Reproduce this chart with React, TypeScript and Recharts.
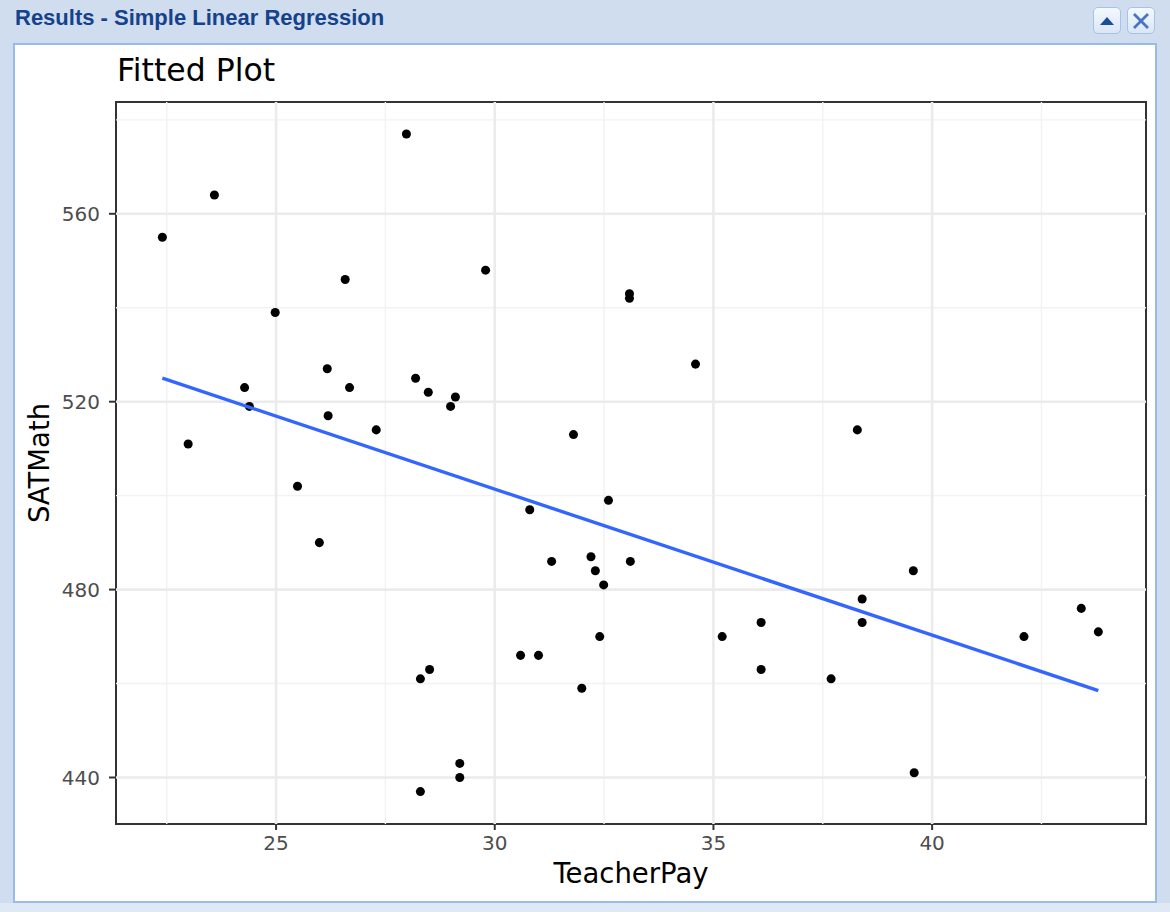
import { ReferenceArea, ReferenceLine, Scatter, ScatterChart, XAxis, YAxis, ZAxis } from "recharts";

// TeacherPay (x) and SATMath (y) for each state
const teacherPay = [
  22.4, 22.99, 23.59, 24.28, 24.39, 24.98, 25.49, 25.99, 26.17, 26.19,
  26.58, 26.68, 27.29, 27.98, 28.19, 28.48, 28.3, 28.51, 28.3, 28.99,
  29.1, 29.2, 29.2, 29.79, 30.59, 30.8, 31.0, 31.3, 31.8, 31.99,
  32.2, 32.3, 32.4, 32.49, 32.6, 33.08, 33.08, 33.1, 34.59, 35.2,
  36.09, 36.09, 37.69, 38.29, 38.4, 38.4, 39.57, 39.59, 42.1, 43.41,
  43.8,
];
const satMath = [
  555, 511, 564, 523, 519, 539, 502, 490, 527, 517,
  546, 523, 514, 577, 525, 522, 461, 463, 437, 519,
  521, 443, 440, 548, 466, 497, 466, 486, 513, 459,
  487, 484, 470, 481, 499, 543, 542, 486, 528, 470,
  473, 463, 461, 514, 478, 473, 484, 441, 470, 476,
  471,
];

// fitted regression line end points
const fitPay = [22.4, 43.8];
const fitMath = [525.0, 458.5];

const xTicks = [25, 30, 35, 40];
const yTicks = [440, 480, 520, 560];
const xMinor = [22.5, 27.5, 32.5, 37.5, 42.5];
const yMinor = [460, 500, 540, 580];
const xDomain = [21.34, 44.89];
const yDomain = [430.1, 583.8];

const points = teacherPay.map((x, i) => ({ x, y: satMath[i] }));
const fitted = fitPay.map((x, i) => ({ x, y: fitMath[i] }));

const FONT = "'DejaVu Sans', Verdana, sans-serif";

function WindowButton({ left, children }: { left: number; children: any }) {
  return (
    <div
      style={{
        position: "absolute",
        left,
        top: 7,
        width: 28,
        height: 27,
        boxSizing: "border-box",
        border: "1px solid #a6c2e9",
        borderRadius: 5,
        background: "linear-gradient(#f5f9fe, #d9e6f7)",
        display: "flex",
        alignItems: "center",
        justifyContent: "center",
      }}
    >
      {children}
    </div>
  );
}

export default function App() {
  return (
    <div
      style={{
        position: "absolute",
        left: 0,
        top: 0,
        width: 1170,
        height: 912,
        overflow: "hidden",
        background: "#d0ddee",
      }}
    >
      <div
        style={{
          position: "absolute",
          left: 15,
          top: 7,
          fontFamily: "'Liberation Sans', Arial, sans-serif",
          fontWeight: "bold",
          fontSize: 22,
          lineHeight: "22px",
          color: "#15428b",
          whiteSpace: "nowrap",
        }}
      >
        Results - Simple Linear Regression
      </div>
      <WindowButton left={1093}>
        <svg width="16" height="10">
          <polygon points="1,9 8,1 15,9" fill="#1c4d9a" />
        </svg>
      </WindowButton>
      <WindowButton left={1127}>
        <svg width="18" height="18">
          <path d="M2,2 L16,16 M16,2 L2,16" stroke="#4a74bf" strokeWidth="2.8" />
        </svg>
      </WindowButton>
      <div
        style={{
          position: "absolute",
          left: 0,
          top: 903,
          width: 1170,
          height: 9,
          background: "#dfe8f5",
        }}
      />
      <div
        style={{
          position: "absolute",
          left: 13,
          top: 43,
          width: 1144,
          height: 860,
          boxSizing: "border-box",
          border: "2px solid #99bbe8",
          background: "#ffffff",
        }}
      />
      <div
        style={{
          position: "absolute",
          left: 117,
          top: 55,
          fontFamily: FONT,
          fontSize: 31.5,
          lineHeight: "31.5px",
          color: "#000000",
          whiteSpace: "nowrap",
        }}
      >
        Fitted Plot
      </div>
      <div style={{ position: "absolute", left: 0, top: 0 }}>
        <ScatterChart
          width={1170}
          height={912}
          margin={{ top: 102, right: 24, bottom: 0, left: 0 }}
        >
          <XAxis
            type="number"
            dataKey="x"
            domain={xDomain}
            ticks={xTicks}
            allowDataOverflow
            height={88}
            axisLine={false}
            tickLine={{ stroke: "#333333", strokeWidth: 2 }}
            tickSize={6}
            tickMargin={6}
            tick={{ fill: "#4d4d4d", fontSize: 20, fontFamily: FONT }}
            label={{
              value: "TeacherPay",
              position: "insideBottom",
              offset: 29,
              fill: "#000000",
              fontSize: 27.5,
              fontFamily: FONT,
            }}
          />
          <YAxis
            type="number"
            dataKey="y"
            domain={yDomain}
            ticks={yTicks}
            allowDataOverflow
            width={116}
            axisLine={false}
            tickLine={{ stroke: "#333333", strokeWidth: 2 }}
            tickSize={7}
            tickMargin={9}
            tick={{ fill: "#4d4d4d", fontSize: 20, fontFamily: FONT }}
            label={{
              value: "SATMath",
              position: "insideLeft",
              angle: -90,
              offset: 39,
              fill: "#000000",
              fontSize: 27.5,
              fontFamily: FONT,
              style: { textAnchor: "middle" },
            }}
          />
          <ZAxis range={[55, 55]} />
          {xMinor.map((v) => (
            <ReferenceLine key={"xm" + v} x={v} stroke="#f2f2f2" strokeWidth={1.4} />
          ))}
          {yMinor.map((v) => (
            <ReferenceLine key={"ym" + v} y={v} stroke="#f2f2f2" strokeWidth={1.4} />
          ))}
          {xTicks.map((v) => (
            <ReferenceLine key={"x" + v} x={v} stroke="#ebebeb" strokeWidth={2.6} />
          ))}
          {yTicks.map((v) => (
            <ReferenceLine key={"y" + v} y={v} stroke="#ebebeb" strokeWidth={2.6} />
          ))}
          <ReferenceArea
            x1={xDomain[0]}
            x2={xDomain[1]}
            y1={yDomain[0]}
            y2={yDomain[1]}
            fill="none"
            fillOpacity={0}
            stroke="#333333"
            strokeWidth={2}
          />
          <Scatter
            data={points}
            fill="#000000"
            shape="circle"
            isAnimationActive={false}
          />
          <Scatter
            data={fitted}
            line={{ stroke: "#3366ff", strokeWidth: 3.4 }}
            shape={() => <g />}
            isAnimationActive={false}
          />
        </ScatterChart>
      </div>
    </div>
  );
}
